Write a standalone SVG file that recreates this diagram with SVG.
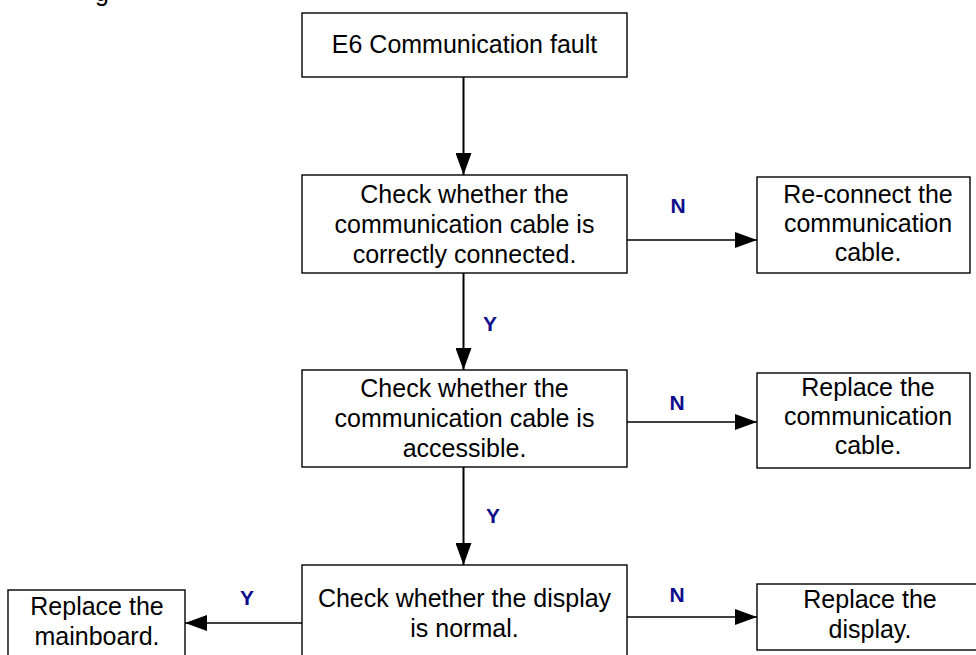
<svg xmlns="http://www.w3.org/2000/svg" width="976" height="655" viewBox="0 0 976 655">
<style>
.box{fill:#fff;stroke:#000;stroke-width:1.4}
.t{font-family:"Liberation Sans",Arial,sans-serif;font-size:25px;fill:#000;text-anchor:middle}
.lbl{font-family:"Liberation Sans",Arial,sans-serif;font-size:21px;font-weight:bold;fill:#0d0d8c;text-anchor:middle}
.v{stroke:#000;stroke-width:2;fill:none}
.h{stroke:#000;stroke-width:1.4;fill:none}
</style>
<defs>
<marker id="ah" markerUnits="userSpaceOnUse" markerWidth="22" markerHeight="16" refX="22" refY="8" orient="auto">
<path d="M0,0 L22,8 L0,16 Z" fill="#000"/>
</marker>
</defs>
<rect width="976" height="655" fill="#fff"/>
<text class="t" x="102" y="0.5">g</text>

<g id="connectors">
<line class="v" x1="463.5" y1="77" x2="463.5" y2="175" marker-end="url(#ah)"/>
<line class="v" x1="463.5" y1="273" x2="463.5" y2="370" marker-end="url(#ah)"/>
<line class="v" x1="463.5" y1="467" x2="463.5" y2="565" marker-end="url(#ah)"/>
<line class="h" x1="627" y1="240" x2="757" y2="240" marker-end="url(#ah)"/>
<line class="h" x1="627" y1="422" x2="757" y2="422" marker-end="url(#ah)"/>
<line class="h" x1="627" y1="617" x2="757" y2="617" marker-end="url(#ah)"/>
<line class="h" x1="302" y1="623" x2="185" y2="623" marker-end="url(#ah)"/>
<text class="lbl" x="678" y="213">N</text>
<text class="lbl" x="490" y="331">Y</text>
<text class="lbl" x="677" y="410">N</text>
<text class="lbl" x="493" y="523">Y</text>
<text class="lbl" x="247" y="605">Y</text>
<text class="lbl" x="677" y="602">N</text>
</g>

<g id="start">
<rect class="box" x="302" y="13" width="325" height="64"/>
<text class="t" x="464.5" y="53">E6 Communication fault</text>
</g>

<g id="check-connected">
<rect class="box" x="302" y="175" width="325" height="98"/>
<text class="t" x="464.5" y="203">Check whether the</text>
<text class="t" x="464.5" y="233">communication cable is</text>
<text class="t" x="464.5" y="263">correctly connected.</text>
</g>

<g id="reconnect">
<rect class="box" x="757" y="177" width="213" height="96"/>
<text class="t" x="868" y="203">Re-connect the</text>
<text class="t" x="868" y="232">communication</text>
<text class="t" x="868" y="261">cable.</text>
</g>

<g id="check-accessible">
<rect class="box" x="302" y="370" width="325" height="97"/>
<text class="t" x="464.5" y="397">Check whether the</text>
<text class="t" x="464.5" y="427">communication cable is</text>
<text class="t" x="464.5" y="457">accessible.</text>
</g>

<g id="replace-cable">
<rect class="box" x="757" y="373" width="213" height="95"/>
<text class="t" x="868" y="396">Replace the</text>
<text class="t" x="868" y="425">communication</text>
<text class="t" x="868" y="454">cable.</text>
</g>

<g id="check-display">
<rect class="box" x="302" y="565" width="325" height="100"/>
<text class="t" x="464.5" y="607">Check whether the display</text>
<text class="t" x="464.5" y="637">is normal.</text>
</g>

<g id="replace-mainboard">
<rect class="box" x="8" y="590" width="177" height="80"/>
<text class="t" x="97" y="615">Replace the</text>
<text class="t" x="97" y="645">mainboard.</text>
</g>

<g id="replace-display">
<rect class="box" x="757" y="584" width="230" height="66"/>
<text class="t" x="870" y="608">Replace the</text>
<text class="t" x="870" y="638">display.</text>
</g>
</svg>
